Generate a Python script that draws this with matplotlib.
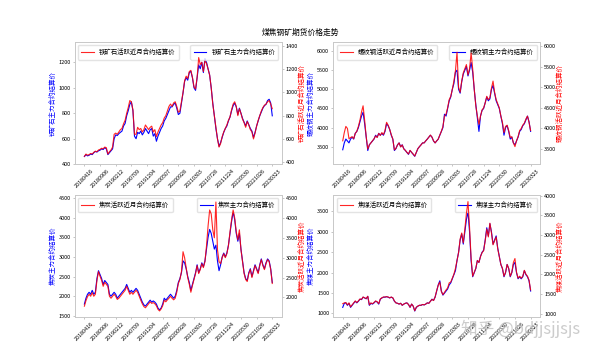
import numpy as np
import matplotlib
matplotlib.use('Agg')
import matplotlib.pyplot as plt

plt.rcParams['font.family'] = ['Noto Sans CJK SC', 'DejaVu Sans']
plt.rcParams['axes.unicode_minus'] = False

# 日期刻度（每10个点一个）
tick_labels = ['20180416', '20180906', '20190212', '20190709', '20191204', '20200507',
               '20200928', '20210303', '20210728', '20211224', '20220530', '20221026', '20230323']

names = ['铁矿石', '螺纹钢', '焦炭', '焦煤']

# 铁矿石
iron_main = [460, 475, 465, 470, 480, 475, 490, 500, 495, 505, 510,
             520, 515, 530, 520, 475, 490, 505, 520, 600, 630,
             625, 640, 650, 660, 700, 720, 780, 820, 870, 890,
             820, 620, 600, 650, 640, 660, 630, 650, 680, 660,
             640, 670, 680, 620, 640, 580, 620, 650, 680, 700,
             740, 760, 790, 820, 850, 850, 870, 880, 840, 790,
             800, 880, 960, 1050, 1080, 1060, 1120, 1130, 1080, 1000,
             980, 1080, 1180, 1150, 1200, 1120, 1230, 1200, 1150, 1100,
             1000, 880, 780, 680, 600, 540, 570, 610, 650, 680,
             700, 740, 770, 820, 860, 880, 850, 790, 840, 800,
             760, 730, 700, 740, 710, 680, 660, 610, 650, 700,
             740, 780, 810, 840, 860, 870, 900, 910, 880, 780]
iron_near = [450, 470, 460, 465, 475, 470, 485, 495, 490, 505, 510,
             520, 515, 530, 525, 470, 490, 505, 530, 640, 650,
             640, 660, 680, 690, 730, 760, 820, 870, 930, 920,
             850, 640, 640, 700, 680, 690, 660, 680, 720, 700,
             680, 700, 710, 660, 680, 620, 660, 690, 720, 740,
             780, 800, 840, 880, 900, 880, 910, 920, 880, 830,
             840, 920, 1000, 1100, 1140, 1120, 1180, 1190, 1130, 1050,
             1030, 1130, 1300, 1240, 1260, 1180, 1270, 1250, 1200, 1150,
             1040, 900, 800, 700, 600, 530, 560, 620, 660, 690,
             720, 760, 790, 850, 900, 920, 880, 800, 860, 820,
             770, 740, 700, 750, 720, 680, 660, 600, 650, 710,
             760, 800, 840, 870, 890, 900, 920, 930, 900, 860]

# 螺纹钢
rebar_main = [3420, 3600, 3700, 3650, 3600, 3700, 3750, 3700, 3850, 3900, 4000,
              4150, 4300, 4400, 4100, 3750, 3400, 3550, 3600, 3650, 3700,
              3800, 3750, 3850, 3800, 3850, 3800, 3900, 4100, 4050, 3950,
              3800, 3700, 3400, 3450, 3550, 3600, 3500, 3550, 3450, 3400,
              3350, 3300, 3400, 3350, 3300, 3250, 3350, 3450, 3500, 3550,
              3600, 3600, 3650, 3700, 3750, 3800, 3750, 3650, 3600, 3650,
              3700, 3800, 3900, 4000, 4350, 4300, 4500, 4700, 4800, 5000,
              5150, 5450, 5500, 5000, 4900, 5200, 5400, 5500, 5600, 5350,
              5500, 5700, 5450, 5000, 4600, 4250, 3900, 4300, 4450, 4500,
              4650, 4800, 4700, 4750, 5000, 5100, 4900, 4700, 4600, 4500,
              4300, 4100, 3800, 4000, 4050, 3900, 3700, 3750, 3600, 3550,
              3650, 3750, 3900, 3950, 4050, 4100, 4200, 4300, 4150, 3900]
rebar_near = [3700, 3900, 4050, 4000, 3750, 3780, 3800, 3750, 3880, 3930, 4050,
              4200, 4400, 4550, 4200, 3800, 3500, 3600, 3650, 3700, 3750,
              3820, 3780, 3880, 3830, 3900, 3850, 3950, 4150, 4080, 3980,
              3850, 3740, 3480, 3520, 3600, 3650, 3550, 3600, 3500, 3470,
              3420, 3380, 3470, 3420, 3380, 3330, 3420, 3510, 3560, 3600,
              3650, 3650, 3700, 3740, 3790, 3840, 3790, 3700, 3650, 3700,
              3740, 3840, 3930, 4050, 4300, 4350, 4500, 4700, 4780, 4950,
              5150, 5400, 5850, 5000, 4880, 5150, 5350, 5450, 5550, 5300,
              5450, 5830, 5450, 4950, 4550, 4300, 4100, 4300, 4450, 4500,
              4620, 4780, 4700, 4750, 4980, 5150, 4880, 4700, 4600, 4500,
              4300, 4150, 3900, 4050, 4080, 3950, 3780, 3800, 3650, 3560,
              3700, 3800, 3950, 4000, 4080, 4130, 4230, 4300, 4150, 3950]

# 焦炭
coke_main = [1800, 1950, 2050, 2100, 2050, 2150, 2050, 2100, 2450, 2650, 2550,
             2450, 2300, 2400, 2350, 2300, 2050, 2000, 2050, 2100, 2050,
             1950, 2000, 2050, 2100, 2150, 2200, 2300, 2200, 2100, 2150,
             2100, 2150, 2200, 2150, 2050, 1950, 1850, 1780, 1750, 1800,
             1850, 1900, 1850, 1880, 1850, 1800, 1700, 1650, 1700, 1800,
             1950, 1900, 1950, 2000, 2050, 2000, 1950, 2000, 2150, 2350,
             2450, 2600, 2900, 2850, 2700, 2500, 2350, 2150, 2300, 2450,
             2600, 2800, 2600, 2700, 2850, 2750, 2900, 3200, 3500, 3700,
             3600, 3400, 3200, 3300, 2900, 2650, 2800, 3000, 3100, 3000,
             3100, 3300, 3600, 3900, 4150, 3950, 3600, 3400, 3600, 3200,
             2900, 2600, 2450, 2400, 2600, 2700, 2500, 2650, 2800, 2700,
             2600, 2800, 2950, 2800, 2700, 2850, 2950, 2900, 2700, 2350]
coke_near = [1780, 1920, 2020, 2080, 2030, 2120, 2030, 2080, 2420, 2650, 2530,
             2430, 2280, 2380, 2330, 2280, 2030, 1980, 2030, 2080, 2030,
             1950, 1980, 2030, 2080, 2130, 2180, 2280, 2180, 2080, 2130,
             2080, 2130, 2180, 2130, 2030, 1930, 1840, 1770, 1740, 1790,
             1840, 1890, 1850, 1870, 1840, 1790, 1700, 1660, 1710, 1790,
             1930, 1890, 1940, 1980, 2030, 1980, 1940, 1980, 2130, 2350,
             2450, 2650, 3150, 3000, 2750, 2500, 2330, 2130, 2300, 2450,
             2600, 2800, 2600, 2700, 2850, 2750, 2900, 3300, 3800, 4200,
             4100, 3700, 3500, 4400, 3200, 2900, 2850, 3000, 3100, 3000,
             3100, 3300, 3650, 3950, 4200, 4000, 3650, 3450, 3700, 3200,
             2900, 2600, 2450, 2400, 2600, 2700, 2500, 2650, 2800, 2700,
             2600, 2800, 2950, 2800, 2700, 2850, 2950, 2900, 2700, 2350]

# 焦煤
coal_main = [1150, 1250, 1260, 1200, 1250, 1150, 1200, 1250, 1300, 1260, 1300,
             1350, 1340, 1400, 1380, 1360, 1420, 1200, 1250, 1230, 1260,
             1300, 1280, 1230, 1350, 1380, 1400, 1400, 1410, 1400, 1380,
             1400, 1380, 1300, 1260, 1250, 1230, 1250, 1200, 1230, 1250,
             1260, 1220, 1150, 1230, 1180, 1060, 1150, 1180, 1200, 1200,
             1220, 1210, 1230, 1260, 1250, 1300, 1350, 1320, 1400, 1550,
             1700, 1800, 1550, 1450, 1500, 1550, 1600, 1700, 1750, 1850,
             1950, 2050, 2300, 2500, 2800, 2950, 2700, 3000, 3300, 3500,
             3000, 2300, 1900, 2000, 2100, 2300, 2250, 2400, 2500, 2550,
             2800, 3100, 2900, 3200, 3000, 2700, 2800, 2900, 2600, 2400,
             2200, 2100, 1900, 2000, 2200, 2100, 1900, 2000, 2200, 2250,
             2000, 1850, 1900, 1850, 1900, 2050, 1950, 1900, 1800, 1550]
coal_near = [1250, 1270, 1280, 1220, 1270, 1170, 1220, 1270, 1320, 1280, 1320,
             1370, 1360, 1420, 1400, 1380, 1440, 1220, 1270, 1250, 1280,
             1320, 1300, 1250, 1370, 1400, 1420, 1420, 1430, 1420, 1400,
             1420, 1400, 1320, 1270, 1260, 1240, 1260, 1210, 1240, 1260,
             1270, 1230, 1160, 1240, 1190, 1070, 1160, 1190, 1210, 1210,
             1230, 1220, 1240, 1270, 1260, 1310, 1360, 1330, 1420, 1580,
             1720, 1800, 1560, 1480, 1540, 1600, 1650, 1780, 1800, 1900,
             2000, 2150, 2350, 2550, 2900, 3050, 2800, 3150, 3550, 3850,
             3200, 2400, 1950, 2050, 2150, 2350, 2300, 2450, 2550, 2600,
             2850, 3150, 2950, 3300, 3050, 2750, 2850, 2950, 2650, 2450,
             2250, 2150, 1950, 2050, 2250, 2150, 1950, 2050, 2300, 2400,
             2050, 1900, 1950, 1900, 1950, 2100, 2000, 1950, 1850, 1600]

main_data = [iron_main, rebar_main, coke_main, coal_main]
near_data = [iron_near, rebar_near, coke_near, coal_near]
left_lims = [(400, 1360), (3044, 6237), (1475, 4585), (918, 3910)]
right_lims = [(383, 1434), (3134, 6098), (1512, 4584), (915, 4026)]

fig, axes = plt.subplots(2, 2, figsize=(6, 3.56), dpi=100)
plt.subplots_adjust(left=0.125, right=0.9, top=0.882, bottom=0.11, wspace=0.25, hspace=0.25)
fig.suptitle('煤焦钢矿期货价格走势', fontsize=5.6, y=0.92)

for i, ax in enumerate(axes.flat):
    x = np.arange(len(main_data[i]))
    name = names[i]
    ax2 = ax.twinx()
    ax.plot(x, main_data[i], color='blue', linewidth=0.8, label=name + '主力合约结算价')
    ax2.plot(x, near_data[i], color='red', linewidth=0.8, alpha=0.85, label=name + '活跃近月合约结算价')
    ax.set_ylim(*left_lims[i])
    ax2.set_ylim(*right_lims[i])
    ax.set_xticks(x[::10])
    ax.set_xticklabels(tick_labels, rotation=45)
    ax.set_ylabel(name + '主力合约结算价', color='blue', fontsize=4.7)
    ax2.set_ylabel(name + '活跃近月合约结算价', color='red', fontsize=4.7)
    ax.yaxis.set_label_coords(-0.085, 0.5)
    ax2.yaxis.set_label_coords(1.082, 0.5)
    for a in (ax, ax2):
        a.tick_params(axis='both', labelsize=4.0, length=1.5, width=0.4, color='#999999', pad=1.5)
        for sp in a.spines.values():
            sp.set_color('#c8c8c8')
            sp.set_linewidth(0.6)
    ax.tick_params(axis='x', labelsize=3.9)
    ax.legend(loc='upper right', fontsize=4.6, frameon=True, edgecolor='#dddddd',
              handlelength=2.0, borderpad=0.5, framealpha=0.8)
    ax2.legend(loc='upper left', fontsize=4.6, frameon=True, edgecolor='#dddddd',
               handlelength=2.0, borderpad=0.5, framealpha=0.8)

fig.text(0.868, 0.075, '知乎 @bdjjsjjsjs', fontsize=12, color='#c0c0c0', alpha=0.8,
         ha='center', va='center')

plt.savefig('out.png', dpi=100)
